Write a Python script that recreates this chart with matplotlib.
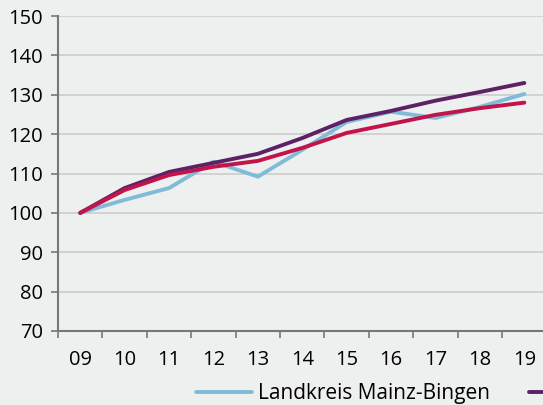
import matplotlib.pyplot as plt

plt.rcParams['font.family'] = ['Open Sans', 'DejaVu Sans']

# Daten (Index 2009 = 100)
jahre = ["09", "10", "11", "12", "13", "14", "15", "16", "17", "18", "19"]
mainz_bingen = [100, 103.3, 106.3, 113.0, 109.2, 116.0, 123.1, 125.7, 124.1, 126.9, 130.2]
reihe_lila = [100, 106.3, 110.4, 112.7, 115.0, 119.0, 123.6, 125.9, 128.5, 130.7, 133.0]
reihe_rot = [100, 105.8, 109.6, 111.7, 113.2, 116.5, 120.3, 122.6, 124.9, 126.6, 128.0]
namen = ["Landkreis Mainz-Bingen", "Rheinland-Pfalz", "Deutschland"]

bg = "#eef0ef"
fig = plt.figure(figsize=(5.43, 4.05), dpi=100, facecolor=bg)
ax = fig.add_axes([58 / 543, 1 - 331 / 405, (543 - 58) / 543, (331 - 16) / 405])
ax.set_facecolor(bg)

x = range(len(jahre))
ax.plot(x, mainz_bingen, color="#80bcd8", lw=2.8, label=namen[0], solid_capstyle="round")
ax.plot(x, reihe_lila, color="#5c2265", lw=2.8, label=namen[1], solid_capstyle="round")
ax.plot(x, reihe_rot, color="#c2134a", lw=2.8, label=namen[2], solid_capstyle="round")

ax.set_ylim(70, 150)
ax.set_yticks(range(70, 151, 10))
ax.set_xlim(-0.5, 10.42)
ax.set_xticks(list(x))
ax.set_xticklabels(jahre)
ax.set_xticks([i - 0.5 for i in range(len(jahre))], minor=True)
ax.tick_params(axis="x", which="major", length=0, pad=14, labelsize=14.5)
ax.tick_params(axis="x", which="minor", length=5, color="#777777", width=1.2)
ax.tick_params(axis="y", length=5, color="#777777", width=1.2, labelsize=14.5, pad=6)

ax.grid(axis="y", color="#cdcdcd", lw=1.2)
ax.set_axisbelow(True)
for s in ["top", "right"]:
    ax.spines[s].set_visible(False)
ax.spines["left"].set_color("#777777")
ax.spines["bottom"].set_color("#777777")
ax.spines["left"].set_linewidth(1.5)
ax.spines["bottom"].set_linewidth(1.5)

fig.legend(loc="center left", bbox_to_anchor=(188 / 543, 1 - 394 / 405), ncol=3,
           frameon=False, fontsize=15, handlelength=2.65, handletextpad=0.3,
           columnspacing=1.9, borderaxespad=0)

fig.savefig("out.png", facecolor=bg)
